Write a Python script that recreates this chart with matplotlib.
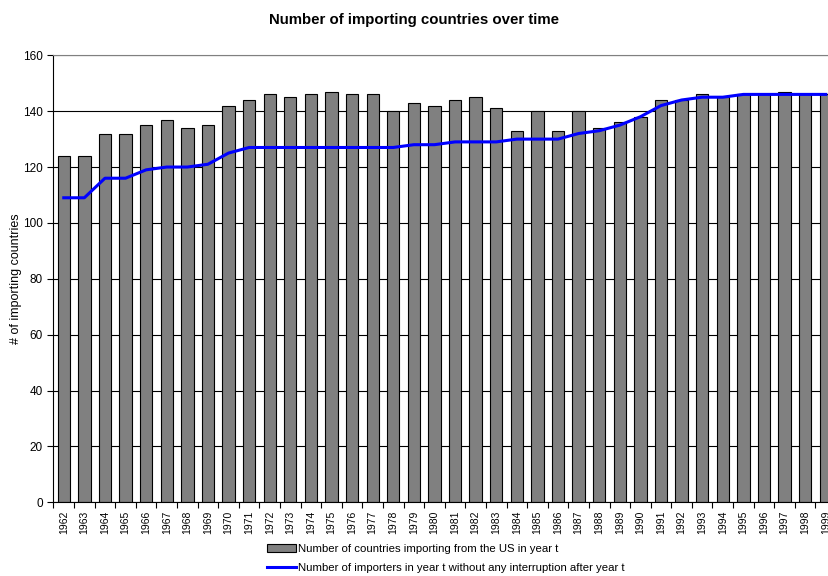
import matplotlib
matplotlib.use("Agg")
import matplotlib.pyplot as plt
import numpy as np

plt.rcParams['font.family'] = ['Liberation Sans', 'DejaVu Sans']

years = list(range(1962, 2000))
importers = [124, 124, 132, 132, 135, 137, 134, 135, 142, 144,
             146, 145, 146, 147, 146, 146, 140, 143, 142, 144,
             145, 141, 133, 140, 133, 140, 134, 136, 138, 144,
             144, 146, 145, 146, 146, 147, 146, 146]
continuous = [109, 109, 116, 116, 119, 120, 120, 121, 125, 127,
              127, 127, 127, 127, 127, 127, 127, 128, 128, 129,
              129, 129, 130, 130, 130, 132, 133, 135, 138, 142,
              144, 145, 145, 146, 146, 146, 146, 146]

bar_label = "Number of countries importing from the US in year t"
line_label = "Number of importers in year t without any interruption after year t"

fig = plt.figure(figsize=(8.29, 5.76), dpi=100)
# axes runs past the right edge, as in the original screenshot
ax = fig.add_axes([0.0645, 0.128, 0.944, 0.776])

x = np.arange(len(years))
bars = ax.bar(x, importers, width=0.6, color='#808080', edgecolor='black',
              linewidth=0.8, zorder=2, label=bar_label)
line, = ax.plot(x, continuous, color='#0000FF', linewidth=2.2, zorder=3,
                solid_joinstyle='round', label=line_label)

ax.set_xlim(-0.5, len(years) - 0.5)
ax.set_ylim(0, 160)
ax.set_yticks(range(0, 161, 20))
ax.yaxis.grid(True, color='black', linewidth=0.8, zorder=1)
ax.set_axisbelow(True)

ax.set_xticks(x)
ax.set_xticklabels([str(y) for y in years], rotation=90, fontsize=7.5)
ax.set_xticks(np.arange(-0.5, len(years)), minor=True)
ax.tick_params(axis='x', which='major', length=0, pad=6)
ax.tick_params(axis='x', which='minor', length=4, width=0.8, direction='out')
ax.tick_params(axis='y', labelsize=8.5, length=4, width=0.8, direction='out')

ax.spines['top'].set_color('#808080')
ax.spines['right'].set_visible(False)
ax.spines['left'].set_linewidth(0.8)
ax.spines['bottom'].set_linewidth(0.8)

ax.set_ylabel("# of importing countries", fontsize=9, labelpad=1)
fig.suptitle("Number of importing countries over time", fontsize=10.8,
             fontweight='bold', x=0.5, y=0.978)

fig.legend(handles=[bars, line], loc='lower center', bbox_to_anchor=(0.538, -0.012),
           ncol=1, frameon=False, fontsize=8.2, handlelength=2.5,
           handletextpad=0.2, labelspacing=0.75)

fig.savefig("out.png", dpi=100)
